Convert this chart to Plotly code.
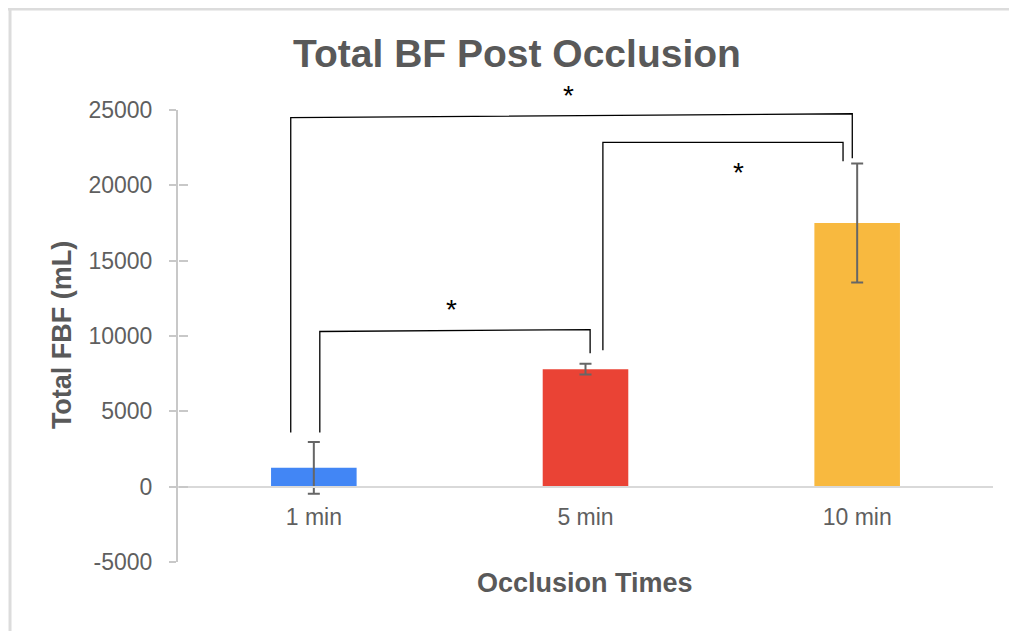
import plotly.graph_objects as go

categories = ["1 min", "5 min", "10 min"]
values = [1250, 7800, 17500]
errors = [1720, 360, 3950]
colors = ["#4286F5", "#EA4335", "#F8B93F"]
y_ticks = [-5000, 0, 5000, 10000, 15000, 20000, 25000]
y_tick_text = ["-5000", "0", "5000", "10000", "15000", "20000", "25000"]
y_range = [-5000, 25000]

# significance brackets: (x path in category index units, y path in data units)
brackets = [
    ([-0.085, -0.085, 1.982, 1.982], [3600, 24500, 24750, 21800]),
    ([1.064, 1.064, 1.948, 1.948], [9050, 22850, 22850, 21600]),
    ([0.022, 0.022, 1.017, 1.017], [3600, 10300, 10420, 8850]),
]
star_x = [0.936, 1.562, 0.508]
star_y = [25980, 20830, 11730]

# page body has an 8px margin; figure is sized to fit the window
W, H = 1009, 623
ML, MR, MT, MB = 170, 24, 102, 69

x_idx = list(range(len(categories)))

fig = go.Figure()
fig.add_trace(go.Bar(
    x=x_idx, y=values, width=0.315,
    marker=dict(color=colors, line=dict(width=0)),
    error_y=dict(type="data", array=errors, color="#666666", thickness=2, width=6),
    showlegend=False, hoverinfo="skip",
))
fig.add_trace(go.Scatter(x=[None], y=[None], yaxis="y2", showlegend=False, hoverinfo="skip"))

for bx, by in brackets:
    path = "M " + " L ".join(f"{a},{b}" for a, b in zip(bx, by))
    fig.add_shape(type="path", path=path, xref="x", yref="y",
                  line=dict(color="black", width=1.3))

# asterisks (y given in data units, placed via the axis range so they may sit above it)
for sx, sy in zip(star_x, star_y):
    fig.add_annotation(x=sx, xref="x", y=(sy - y_range[0]) / (y_range[1] - y_range[0]), yref="paper",
                       text="*", showarrow=False, xanchor="center", yanchor="middle",
                       font=dict(size=28, color="black", family="Liberation Sans"))

# frame of the original screenshot
fig.add_shape(type="line", xref="paper", yref="paper", x0=-0.22, x1=1.05, y0=1.2235, y1=1.2235,
              line=dict(color="#dcdcdc", width=3))
fig.add_shape(type="line", xref="paper", yref="paper", x0=-0.2061, x1=-0.2061, y0=1.2235, y1=-0.16,
              line=dict(color="#dcdcdc", width=3))

fig.add_annotation(text="<b>Total FBF (mL)</b>", xref="paper", yref="paper", x=-0.1423, y=0.502,
                   xanchor="center", yanchor="middle", textangle=-90, showarrow=False,
                   font=dict(size=27, color="#595959", family="Liberation Sans"))
fig.add_annotation(text="<b>Occlusion Times</b>", xref="paper", yref="paper", x=0.4994, y=-0.0465,
                   xanchor="center", yanchor="middle", showarrow=False,
                   font=dict(size=27, color="#595959", family="Liberation Sans"))

fig.update_layout(
    width=W, height=H,
    margin=dict(l=ML, r=MR, t=MT, b=MB),
    paper_bgcolor="white", plot_bgcolor="white",
    title=dict(text="<b>Total BF Post Occlusion</b>", x=(517 - 8) / W, xanchor="center",
               y=1 - (53 - 8) / H, yanchor="middle", yref="container",
               font=dict(size=39, color="#595959", family="Liberation Sans")),
    font=dict(family="Liberation Sans", color="#5f5f5f"),
    xaxis=dict(tickvals=x_idx, ticktext=categories, anchor="free", position=1 / 6, showline=True,
               linecolor="#d9d9d9", linewidth=2, ticks="", showgrid=False, zeroline=False,
               tickfont=dict(size=23, color="#5f5f5f"), ticklabelstandoff=10,
               range=[-0.5, 2.5]),
    yaxis=dict(range=y_range, tickvals=y_ticks, ticktext=y_tick_text, showline=True,
               linecolor="#c8c8c8", linewidth=2, ticks="outside", ticklen=7, tickcolor="#c8c8c8",
               tickwidth=2, showgrid=False, zeroline=False,
               tickfont=dict(size=23, color="#5f5f5f"), ticklabelstandoff=12),
    yaxis2=dict(range=y_range, tickvals=y_ticks, overlaying="y", anchor="free", position=0,
                side="left", showline=False, ticks="inside", ticklen=9, tickcolor="#c8c8c8",
                tickwidth=2, showticklabels=False, showgrid=False, zeroline=False),
)

fig.write_html("out.html")
